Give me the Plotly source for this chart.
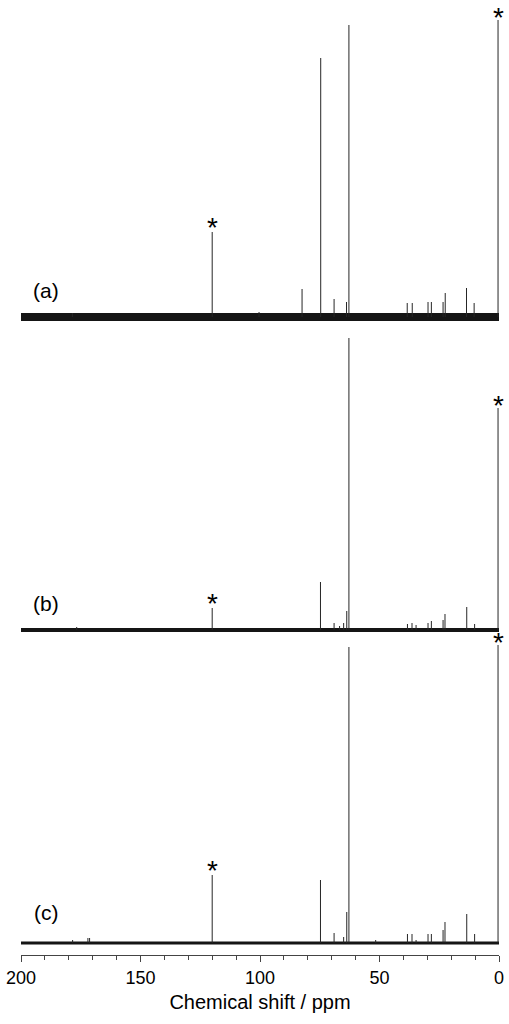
import plotly.graph_objects as go

# ---- data (chemical shift in ppm, intensity in arbitrary units) ----
ppm_a = [178.5, 120.0, 100.4, 82.4, 74.6, 69.0, 63.8, 62.8, 38.4, 36.3, 29.7, 28.3, 23.4, 22.5, 13.6, 10.4, 0.4]
int_a = [4, 85, 5, 28, 259, 18, 15, 292, 14, 14, 15, 15, 15, 24, 29, 14, 297]

ppm_b = [176.7, 120.0, 74.7, 69.0, 66.7, 65.0, 63.7, 62.8, 38.3, 36.4, 34.7, 29.7, 28.3, 23.4, 22.6, 13.5, 10.2, 0.4]
int_b = [3, 22, 48, 7, 4, 7, 19, 292, 6, 7, 5, 7, 9, 10, 16, 23, 6, 222]

ppm_c = [178.4, 172.0, 171.3, 120.0, 74.7, 69.0, 65.0, 63.7, 62.8, 51.6, 38.3, 36.4, 34.7, 29.7, 28.3, 23.4, 22.6, 13.5, 10.2, 0.4]
int_c = [3, 5, 5, 68, 63, 10, 6, 31, 296, 3, 9, 9, 3, 9, 9, 13, 21, 29, 9, 298]

labels = ["(a)", "(b)", "(c)"]
starred_ppm = [120.0, 0.4]          # reference/solvent peaks marked with *
x_ticks = [200, 150, 100, 50, 0]

# ---- styling / layout parameters ----
offsets = [638, 325, 12]            # vertical stacking offsets
noise_width = [8, 4, 3]             # baseline noise band thickness (px)
label_y = [665, 352, 43]
star_shift = [-13, -15]             # px shift of the * above each starred peak

spectra = [(ppm_a, int_a), (ppm_b, int_b), (ppm_c, int_c)]

fig = go.Figure()
for (ppm, inten), off, nw, lab, ly in zip(spectra, offsets, noise_width, labels, label_y):
    # baseline (noise band)
    fig.add_trace(go.Scatter(x=[200, 0], y=[off, off], mode="lines",
                             line=dict(color="#151515", width=nw),
                             hoverinfo="skip", showlegend=False))
    # peaks as sticks
    xs, ys = [], []
    for p, h in zip(ppm, inten):
        xs += [p, p, None]
        ys += [off, off + h, None]
    fig.add_trace(go.Scatter(x=xs, y=ys, mode="lines",
                             line=dict(color="#262626", width=1),
                             hoverinfo="skip", showlegend=False))
    # asterisks
    for sp, ysh in zip(starred_ppm, star_shift):
        h = inten[ppm.index(sp)]
        fig.add_annotation(x=sp, y=off + h, xref="x", yref="y", text="*",
                           showarrow=False, yanchor="bottom", yshift=ysh,
                           font=dict(size=28, color="black",
                                     family="Liberation Sans, Arial"))
    # spectrum label
    fig.add_annotation(x=189.5, y=ly, xref="x", yref="y", text=lab,
                       showarrow=False, xanchor="center", yanchor="middle",
                       font=dict(size=21, color="black",
                                 family="Liberation Sans, Arial"))

fig.update_layout(
    width=509, height=1024,
    margin=dict(l=21, r=10, t=0, b=69),
    plot_bgcolor="white", paper_bgcolor="white",
    font=dict(family="Liberation Sans, Arial", color="black"),
    xaxis=dict(range=[200, 0], tickvals=x_ticks, ticktext=[str(t) for t in x_ticks],
               ticks="outside", ticklen=6, tickwidth=1, tickcolor="#444444",
               showline=True, linecolor="#444444", linewidth=1,
               showgrid=False, zeroline=False,
               tickfont=dict(size=18),
               minor=dict(dtick=10, tick0=0, ticks="outside", ticklen=4,
                          tickcolor="#444444", showgrid=False),
               title=dict(text="Chemical shift / ppm", font=dict(size=20), standoff=8)),
    yaxis=dict(range=[0, 955], visible=False, fixedrange=True),
)

fig.write_html("out.html", config={"displayModeBar": False},
               post_script="document.body.style.margin='0';document.body.style.overflow='hidden';")
